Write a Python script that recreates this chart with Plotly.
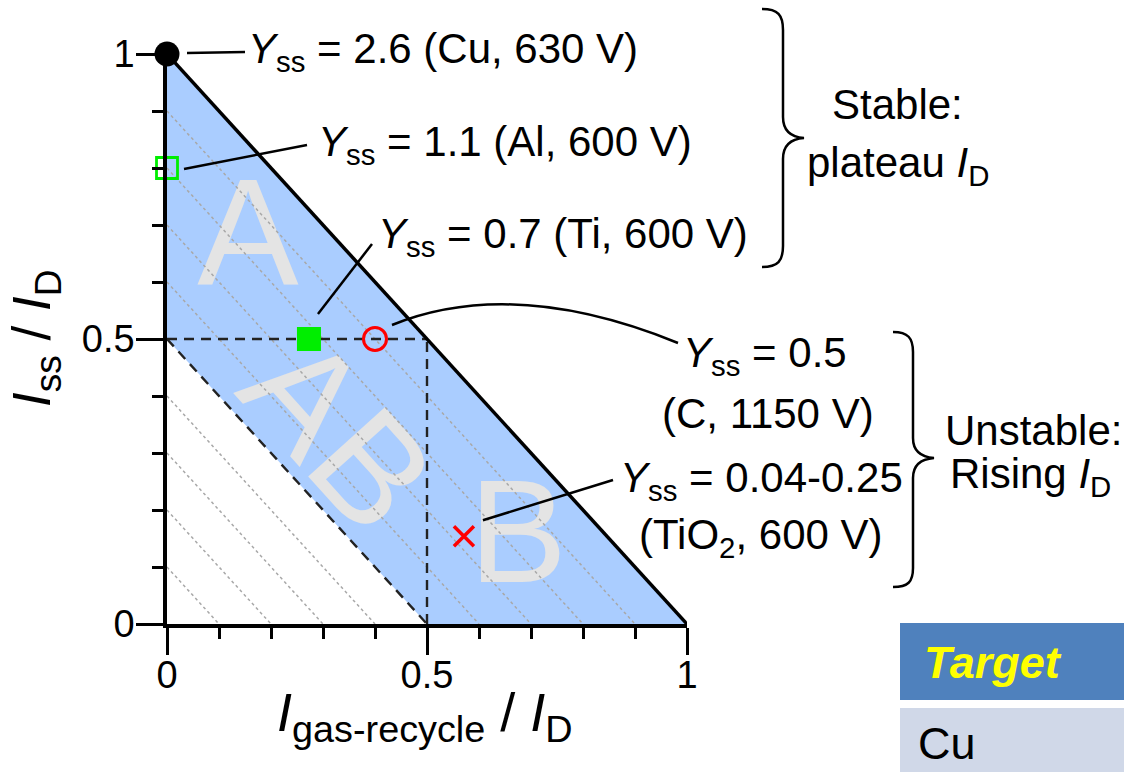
import plotly.graph_objects as go

# steady-state operating points, one per target material
targets = ["Cu", "Al", "Ti", "C", "TiO<sub>2</sub>"]
gas_recycle_frac = [0.0, 0.0, 0.273, 0.40, 0.571]   # I_gas-recycle / I_D
ss_frac = [1.0, 0.80, 0.50, 0.50, 0.154]            # I_ss / I_D
yield_ss = ["2.6", "1.1", "0.7", "0.5", "0.04-0.25"]
voltages = ["630 V", "600 V", "600 V", "1150 V", "600 V"]

# region boundaries along I_ss + I_gas-recycle = const
upper_limit = 1.0
lower_limit = 0.5
guide_levels = [0.1, 0.2, 0.3, 0.4, 0.6, 0.7, 0.8, 0.9]

FONT = "Liberation Sans, Arial, sans-serif"
W, H = 1124, 772
L, T, PW, PH = 167, 54, 520, 570
XR = [0, 1]
YR = [0, 1]


def data_to_px(x, y):
    xp = L + (x - XR[0]) / (XR[1] - XR[0]) * PW
    yp = T + PH - (y - YR[0]) / (YR[1] - YR[0]) * PH
    return xp, yp


def px_to_data(xp, yp):
    x = XR[0] + (xp - L) / PW * (XR[1] - XR[0])
    y = YR[0] + (T + PH - yp) / PH * (YR[1] - YR[0])
    return x, y


def px_to_paper(xp, yp):
    return (xp - L) / PW, (T + PH - yp) / PH


def path_px(cmds):
    """Build an SVG path in paper units from (command, [x, y, ...]) pixel pairs."""
    out = []
    for c, pts in cmds:
        seg = [c]
        for i in range(0, len(pts), 2):
            px, py = px_to_paper(pts[i], pts[i + 1])
            seg.append(f"{px:.5f},{py:.5f}")
        out.append(" ".join(seg))
    return " ".join(out)


fig = go.Figure()

shapes = []
# shaded operating region between the two limits
shapes.append(dict(
    type="path", xref="x", yref="y", layer="below",
    path=(f"M 0,{upper_limit} L 0,{lower_limit} L {lower_limit},0 "
          f"L {upper_limit},0 Z"),
    fillcolor="#aacdff", line=dict(width=0),
))


# region letters (same subplot layer as the shading, drawn after it)
def letter(text, xp, yp, size, angle=0):
    x0, y0 = px_to_data(xp - 5, yp + 5)
    x1, y1 = px_to_data(xp + 5, yp - 5)
    return dict(
        type="rect", xref="x", yref="y", layer="below",
        x0=x0, y0=y0, x1=x1, y1=y1, line=dict(width=0),
        fillcolor="rgba(0,0,0,0)",
        label=dict(text=text, textposition="middle center", textangle=angle,
                   font=dict(size=size, color="#e4e4e4", family=FONT)),
    )


shapes.append(letter("A", 248, 218, 152))
shapes.append(letter("AB", 349, 423, 150, angle=48))
shapes.append(letter("B", 518, 517, 147))

# dotted guides
for c in guide_levels:
    fig.add_trace(go.Scatter(
        x=[0, c], y=[c, 0], mode="lines",
        line=dict(color="#a8a8a8", width=1.5, dash="dot"),
        hoverinfo="skip", showlegend=False,
    ))

# dashed boundaries
dash_style = dict(color="#222222", width=2.4, dash="10px,7px")
fig.add_trace(go.Scatter(x=[0, lower_limit], y=[lower_limit, 0], mode="lines",
                         line=dash_style, showlegend=False, hoverinfo="skip"))
fig.add_trace(go.Scatter(x=[0, lower_limit], y=[lower_limit, lower_limit], mode="lines",
                         line=dash_style, showlegend=False, hoverinfo="skip"))
fig.add_trace(go.Scatter(x=[lower_limit, lower_limit], y=[0, lower_limit], mode="lines",
                         line=dash_style, showlegend=False, hoverinfo="skip"))
# solid upper limit
fig.add_trace(go.Scatter(x=[0, upper_limit], y=[upper_limit, 0], mode="lines",
                         line=dict(color="black", width=3.5),
                         showlegend=False, hoverinfo="skip"))

marker_styles = [
    dict(symbol="circle", size=25, color="black"),
    dict(symbol="square-open", size=21, color="#00ee00", line=dict(width=2.8, color="#00ee00")),
    dict(symbol="square", size=24, color="#00ee00", line=dict(width=0)),
    dict(symbol="circle-open", size=23, color="#ff0000", line=dict(width=3, color="#ff0000")),
    dict(symbol="x-thin", size=20, color="#ff0000", line=dict(width=3.5, color="#ff0000")),
]
for i, name in enumerate(targets):
    fig.add_trace(go.Scatter(
        x=[gas_recycle_frac[i]], y=[ss_frac[i]], mode="markers",
        marker=marker_styles[i], cliponaxis=False, name=name, showlegend=False,
    ))

# leader lines: start offset from each point, end at its label
leader_offsets = [(20, -1), (17, 1), (9, -25), (17, -14), (19, -16)]
leader_ends = [(245, 52), (307, 145), (372, 244), None, (613, 480)]
for i in range(len(targets)):
    px0, py0 = data_to_px(gas_recycle_frac[i], ss_frac[i])
    sx, sy = px0 + leader_offsets[i][0], py0 + leader_offsets[i][1]
    if leader_ends[i] is None:
        p = path_px([("M", [sx, sy]), ("Q", [513, 276, 678, 343])])
    else:
        p = path_px([("M", [sx, sy]), ("L", list(leader_ends[i]))])
    shapes.append(dict(type="path", xref="paper", yref="paper", layer="above",
                       path=p, line=dict(color="black", width=2.5)))

# curly braces
brace_style = dict(color="black", width=2.5)
shapes.append(dict(type="path", xref="paper", yref="paper", layer="above", line=brace_style,
                   path=path_px([
                       ("M", [762, 9]), ("C", [778, 9, 783, 15, 783, 30]),
                       ("L", [783, 117]), ("C", [783, 130, 790, 137, 804, 138]),
                       ("C", [790, 139, 783, 146, 783, 159]), ("L", [783, 246]),
                       ("C", [783, 261, 778, 267, 762, 267])])))
shapes.append(dict(type="path", xref="paper", yref="paper", layer="above", line=brace_style,
                   path=path_px([
                       ("M", [893, 332]), ("C", [908, 332, 913, 338, 913, 352]),
                       ("L", [913, 438]), ("C", [913, 451, 921, 457, 934, 458]),
                       ("C", [921, 459, 913, 465, 913, 478]), ("L", [913, 568]),
                       ("C", [913, 582, 908, 587, 893, 587])])))

# target legend boxes
bx0, by0 = px_to_paper(900, 700)
bx1, by1 = px_to_paper(1130, 623)
shapes.append(dict(type="rect", xref="paper", yref="paper", layer="above",
                   x0=bx0, y0=by0, x1=bx1, y1=by1, fillcolor="#4f81bd",
                   line=dict(width=0)))
bx0, by0 = px_to_paper(900, 780)
bx1, by1 = px_to_paper(1130, 708)
shapes.append(dict(type="rect", xref="paper", yref="paper", layer="above",
                   x0=bx0, y0=by0, x1=bx1, y1=by1, fillcolor="#d0d8e8",
                   line=dict(width=0)))

annotations = []


def label(text, xp, yp, size=42, xanchor="left", color="black", angle=0):
    x, y = px_to_paper(xp, yp)
    annotations.append(dict(
        text=text, x=x, y=y, xref="paper", yref="paper", xanchor=xanchor,
        yanchor="middle", showarrow=False, textangle=angle,
        font=dict(size=size, family=FONT, color=color),
    ))


ysub = "<i>Y</i><sub>ss</sub>"
label(f"{ysub} = {yield_ss[0]} ({targets[0]}, {voltages[0]})", 246, 52)
label(f"{ysub} = {yield_ss[1]} ({targets[1]}, {voltages[1]})", 316, 144)
label(f"{ysub} = {yield_ss[2]} ({targets[2]}, {voltages[2]})", 376, 236)
label(f"{ysub} = {yield_ss[3]}", 765, 355, xanchor="center")
label(f"({targets[3]}, {voltages[3]})", 768, 413, xanchor="center")
label(f"{ysub} = {yield_ss[4]}", 761, 480, xanchor="center")
label(f"({targets[4]}, {voltages[4]})", 761, 537, xanchor="center")

label("Stable:", 897, 105, xanchor="center")
label("plateau <i>I</i><sub>D</sub>", 898, 166, xanchor="center")
label("Unstable:", 1033, 430, xanchor="center")
label("Rising <i>I</i><sub>D</sub>", 1030, 476, xanchor="center")

label("<b><i>Target</i></b>", 922, 662, size=45, color="#ffff00")
label("Cu", 916, 743, size=45)

# axis titles
label("<i>I</i><sub>ss</sub> / <i>I</i><sub>D</sub>", 35, 338, size=53,
      xanchor="center", angle=-90)
label("<i>I</i><sub>gas-recycle</sub> / <i>I</i><sub>D</sub>", 425, 716, size=54,
      xanchor="center")

axis_common = dict(
    showline=True, linecolor="black", linewidth=3.5, mirror=False,
    ticks="outside", tickmode="linear", tick0=0, dtick=0.5,
    ticklen=27, tickwidth=3, tickcolor="black",
    minor=dict(ticks="outside", dtick=0.1, tick0=0, ticklen=11,
               tickwidth=2.5, tickcolor="black", showgrid=False),
    showgrid=False, zeroline=False,
    tickfont=dict(size=38, family=FONT, color="black"),
)
fig.update_layout(
    width=W, height=H,
    margin=dict(l=L, r=W - L - PW, t=T, b=H - T - PH, pad=0),
    paper_bgcolor="white", plot_bgcolor="white",
    xaxis=dict(range=XR, ticklabelstandoff=-12, **axis_common),
    yaxis=dict(range=YR, ticklabelstandoff=-6, **axis_common),
    shapes=shapes, annotations=annotations, showlegend=False,
)

fig.write_html("out.html")
